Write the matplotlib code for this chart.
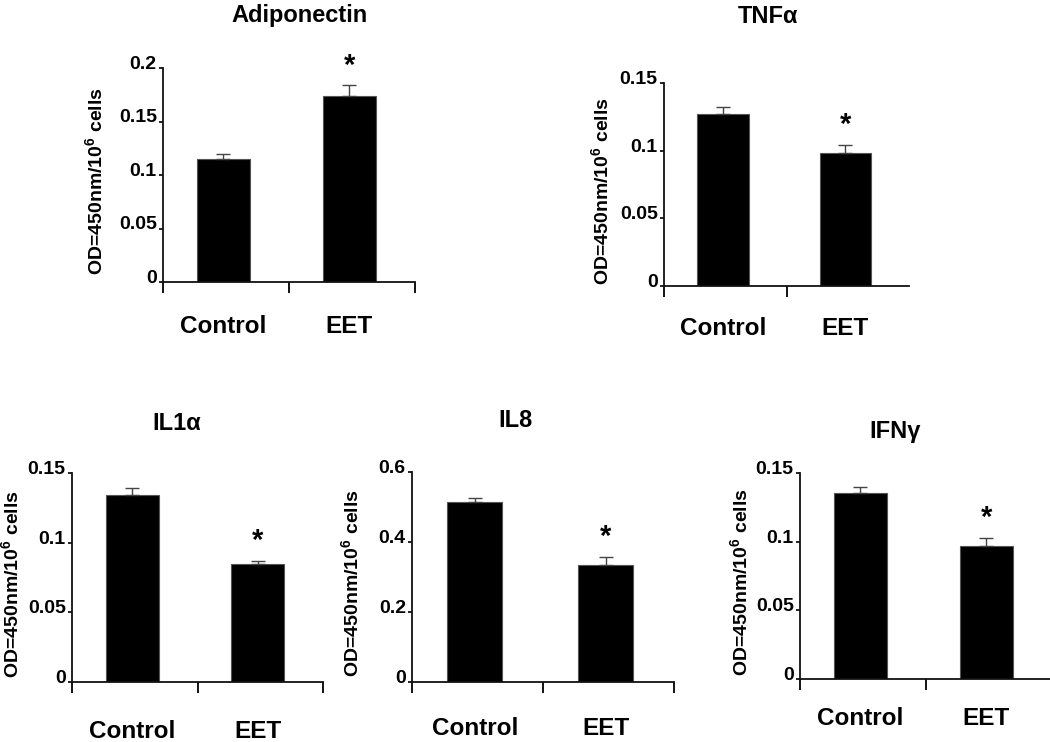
import matplotlib
matplotlib.use('Agg')
import matplotlib.pyplot as plt
from matplotlib.transforms import ScaledTranslation

plt.rcParams['font.family'] = ['Liberation Sans', 'DejaVu Sans']
plt.rcParams['font.weight'] = 'bold'
plt.rcParams['mathtext.fontset'] = 'custom'
plt.rcParams['mathtext.rm'] = 'Liberation Sans:bold'
plt.rcParams['mathtext.bf'] = 'Liberation Sans:bold'

# data
groups = ['Control', 'EET']

adiponectin = [0.115, 0.174]
adiponectin_err = [0.0047, 0.0097]

tnfa = [0.1273, 0.0985]
tnfa_err = [0.005, 0.0055]

il1a = [0.1345, 0.0845]
il1a_err = [0.005, 0.0026]

il8 = [0.515, 0.335]
il8_err = [0.011, 0.022]

ifng = [0.1352, 0.0971]
ifng_err = [0.0046, 0.0054]

ticks_015 = [0, 0.05, 0.1, 0.15]
ticks_015_lab = ['0', '0.05', '0.1', '0.15']
ticks_02 = [0, 0.05, 0.1, 0.15, 0.2]
ticks_02_lab = ['0', '0.05', '0.1', '0.15', '0.2']
ticks_06 = [0, 0.2, 0.4, 0.6]
ticks_06_lab = ['0', '0.2', '0.4', '0.6']

W, H = 1050, 742
fig = plt.figure(figsize=(W / 100, H / 100), dpi=100)

ylab = r'OD=450nm/10$^{\mathbf{6}}$ cells'


def panel(left, right, y0, ytop, means, errs, yticks, ylabels, title, title_xy,
          cat_pad, ylab_off, end_tick=True):
    ax = fig.add_axes([left / W, 1 - y0 / H, (right - left) / W, (y0 - ytop) / H])
    ax.bar([0.48, 1.48], means, width=0.42, color='black', edgecolor='#555555',
           linewidth=0.8, zorder=2)
    ax.errorbar([0.48, 1.48], means, yerr=[[0, 0], errs], fmt='none',
                ecolor='#444444', elinewidth=1.0, capsize=5, capthick=1.0, zorder=3)
    ax.set_xlim(0, 2)
    ax.set_ylim(yticks[0], yticks[-1])
    for s in ['top', 'right']:
        ax.spines[s].set_visible(False)
    for s in ['left', 'bottom']:
        ax.spines[s].set_linewidth(1.3)
        ax.spines[s].set_color('#111111')
    ax.set_xticks([0, 1, 2] if end_tick else [0, 1])
    ax.set_xticklabels([])
    ax.tick_params(axis='x', which='major', direction='out', length=8, width=1.3)
    ax.set_xticks([0.48, 1.48], minor=True)
    ax.set_xticklabels(groups, minor=True, fontsize=17.5, fontweight='bold')
    ax.tick_params(axis='x', which='minor', length=0, pad=cat_pad)
    ax.set_yticks(yticks)
    ax.set_yticklabels(ylabels, fontsize=14, fontweight='bold')
    ax.tick_params(axis='y', direction='out', length=3, width=1.2, pad=1.5)
    for lab in ax.get_yticklabels():
        lab.set_transform(lab.get_transform() + ScaledTranslation(0, 4 / 72, fig.dpi_scale_trans))
    ax.set_ylabel(ylab, fontsize=14, fontweight='bold')
    ax.yaxis.set_label_coords(-ylab_off / (right - left), 0.47)
    for x, m, e in zip([0.48, 1.48], means, errs):
        if x > 1:
            ax.annotate('*', (x, m + e), xytext=(0, 8.6), textcoords='offset points',
                        ha='center', va='baseline', fontsize=21, fontweight='bold',
                        annotation_clip=False)
    fig.text(title_xy[0] / W, 1 - title_xy[1] / H, title, ha='center', va='baseline',
             fontsize=17, fontweight='bold')
    return ax


panel(163, 415, 282, 68, adiponectin, adiponectin_err, ticks_02, ticks_02_lab,
      'Adiponectin', (300, 22), 24, 56)
panel(664, 909, 286, 83, tnfa, tnfa_err, ticks_015, ticks_015_lab,
      'TNFα', (768, 23), 22.5, 51, end_tick=False)
panel(72, 323, 682, 473, il1a, il1a_err, ticks_015, ticks_015_lab,
      'IL1α', (177, 430), 27.5, 49)
panel(412, 674, 682, 472, il8, il8_err, ticks_06, ticks_06_lab,
      'IL8', (515, 427), 25.5, 49)
panel(800, 1052, 679, 473, ifng, ifng_err, ticks_015, ticks_015_lab,
      'IFNγ', (895, 438), 20.5, 48)

fig.savefig('out.png', dpi=100)
